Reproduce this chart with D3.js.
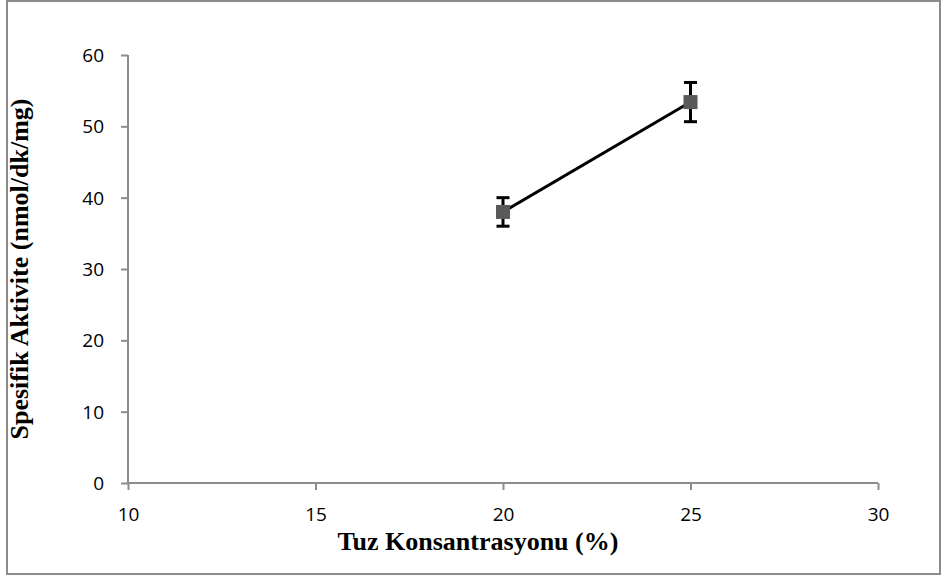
<!DOCTYPE html>
<html>
<head>
<meta charset="utf-8">
<script src="https://cdn.jsdelivr.net/npm/d3@7"></script>
<style>
  body { margin: 0; background: #fff; }
</style>
</head>
<body>
<svg width="942" height="576"></svg>
<script>
var concentrations = [20, 25];
var activity = [38.0, 53.4];
var errors = [2.0, 2.75];
var xTicks = [10, 15, 20, 25, 30];
var yTicks = [0, 10, 20, 30, 40, 50, 60];

var svg = d3.select("svg"),
    margin = {left: 128, right: 64, top: 55, bottom: 93},
    width = 942 - margin.left - margin.right,
    height = 576 - margin.top - margin.bottom;

// chart border
svg.append("rect")
    .attr("x", 7).attr("y", 1)
    .attr("width", 933).attr("height", 573)
    .attr("fill", "none")
    .attr("stroke", "#8c8c8c")
    .attr("stroke-width", 2);

var g = svg.append("g").attr("transform", "translate(" + margin.left + "," + margin.top + ")");

var x = d3.scaleLinear().domain([10, 30]).range([0, width]);
var y = d3.scaleLinear().domain([0, 60]).range([height, 0]);

var xAxis = g.append("g")
    .attr("transform", "translate(0," + height + ")")
    .call(d3.axisBottom(x).tickValues(xTicks).tickSize(7).tickPadding(18));
var yAxis = g.append("g")
    .call(d3.axisLeft(y).tickValues(yTicks).tickSize(7).tickPadding(17));

[xAxis, yAxis].forEach(function(a) {
  a.selectAll("path, line").attr("stroke", "#8c8c8c").attr("stroke-width", 2);
  a.select(".domain").attr("d", a === xAxis ? "M0,0H" + width : "M0,0V" + height);
  a.selectAll("text")
    .attr("fill", "#000")
    .style("font-family", "'Open Sans', 'Noto Sans', sans-serif")
    .style("font-size", "19px");
});
yAxis.selectAll("text").attr("dy", "0.35em");

var pts = concentrations.map(function(c, i) {
  return {x: c, y: activity[i], e: errors[i]};
});

// line
g.append("path")
    .datum(pts)
    .attr("fill", "none")
    .attr("stroke", "#000")
    .attr("stroke-width", 3)
    .attr("d", d3.line().x(function(d) { return x(d.x); }).y(function(d) { return y(d.y); }));

// error bars
var eb = g.selectAll(".err").data(pts).enter().append("g").attr("class", "err");
eb.append("line")
    .attr("x1", function(d) { return x(d.x); })
    .attr("x2", function(d) { return x(d.x); })
    .attr("y1", function(d) { return y(d.y + d.e); })
    .attr("y2", function(d) { return y(d.y - d.e); })
    .attr("stroke", "#000").attr("stroke-width", 3);
eb.selectAll(".cap")
    .data(function(d) { return [d.y + d.e, d.y - d.e].map(function(v) { return {x: d.x, v: v}; }); })
    .enter().append("line")
    .attr("class", "cap")
    .attr("x1", function(d) { return x(d.x) - 6.5; })
    .attr("x2", function(d) { return x(d.x) + 6.5; })
    .attr("y1", function(d) { return y(d.v); })
    .attr("y2", function(d) { return y(d.v); })
    .attr("stroke", "#000").attr("stroke-width", 3);

// markers
g.selectAll(".marker").data(pts).enter().append("rect")
    .attr("class", "marker")
    .attr("x", function(d) { return x(d.x) - 7; })
    .attr("y", function(d) { return y(d.y) - 7; })
    .attr("width", 14).attr("height", 14)
    .attr("fill", "#595959");

// axis titles
svg.append("text")
    .attr("x", 478)
    .attr("y", 550)
    .attr("text-anchor", "middle")
    .style("font-family", "'Liberation Serif', 'Times New Roman', serif")
    .style("font-weight", "bold")
    .style("font-size", "26px")
    .text("Tuz Konsantrasyonu (%)");

svg.append("text")
    .attr("transform", "translate(28," + (margin.top + height / 2) + ") rotate(-90)")
    .attr("text-anchor", "middle")
    .style("font-family", "'Liberation Serif', 'Times New Roman', serif")
    .style("font-weight", "bold")
    .style("font-size", "26px")
    .text("Spesifik Aktivite (nmol/dk/mg)");
</script>
</body>
</html>
